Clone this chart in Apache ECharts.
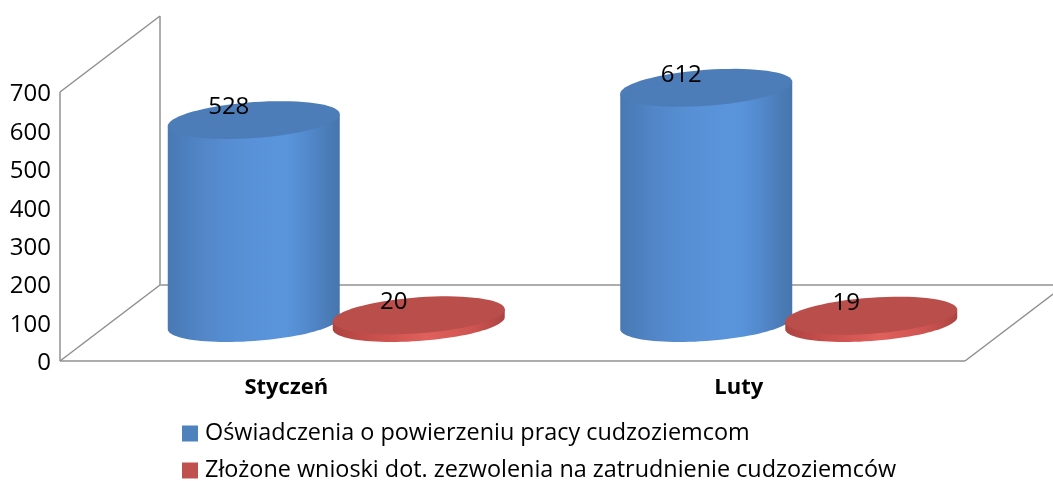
<!DOCTYPE html>
<html>
<head>
<meta charset="utf-8">
<style>
  html, body { margin: 0; padding: 0; background: #fff; }
  #chart { width: 1053px; height: 481px; }
</style>
<script src="https://cdn.jsdelivr.net/npm/echarts@6/dist/echarts.min.js"></script>
</head>
<body>
<div id="chart"></div>
<script>
const categories = ['Styczeń', 'Luty']
const oswiadczenia = [528, 612]
const wnioski = [20, 19]
const seriesNames = [
  'Oświadczenia o powierzeniu pracy cudzoziemcom',
  'Złożone wnioski dot. zezwolenia na zatrudnienie cudzoziemców'
]

const font = '"Open Sans", sans-serif'
const depthX = 100
const depthY = -76
const slot = 82.5
const radius = 86
const radiusY = 18
const shear = 6

const hGrad = (stops) => new echarts.graphic.LinearGradient(0, 0, 1, 0,
  stops.map(s => ({ offset: s[0], color: s[1] })))

const blueSide = hGrad([[0, '#4a79b3'], [0.1, '#4c7fbd'], [0.2, '#5286c8'], [0.38, '#578fd4'], [0.68, '#5a95dc'], [0.82, '#5289cc'], [0.92, '#4b7db9'], [1, '#4776ad']])
const redSide = hGrad([[0, '#ad4341'], [0.2, '#c44d4a'], [0.55, '#e0605c'], [0.8, '#cf5552'], [1, '#ad4442']])

const ellipsePoints = (cx, cy, from, to, n) => {
  const pts = []
  for (let i = 0; i <= n; i++) {
    const t = from + (to - from) * i / n
    pts.push([cx + radius * Math.cos(t), cy + radiusY * Math.sin(t) - shear * Math.cos(t)])
  }
  return pts
}

const cylinder = (sign, sideFill, topFill) => (params, api) => {
  const val = api.value(1)
  const base = api.coord([api.value(0), 0])
  const top = api.coord([api.value(0), val])
  const cx = base[0] + sign * slot + depthX / 2
  const by = base[1] + depthY / 2
  const ty = top[1] + depthY / 2
  const body = [[cx - radius, ty + shear]]
    .concat(ellipsePoints(cx, by, Math.PI, 0, 48))
    .concat([[cx + radius, ty - shear]])
  return {
    type: 'group',
    children: [
      { type: 'polygon', shape: { points: body }, style: { fill: sideFill } },
      { type: 'polygon', shape: { points: ellipsePoints(cx, ty, 0, Math.PI * 2, 72) }, style: { fill: topFill } },
      {
        type: 'text', z2: 10,
        style: {
          x: cx - 25, y: ty - 13, text: String(val), fill: '#000',
          font: '24px ' + font, textAlign: 'center', textVerticalAlign: 'middle'
        }
      }
    ]
  }
}

// walls and floor of the 3d box
const renderWalls = (params, api) => {
  const o = api.coord([0, 0])
  const t = api.coord([0, 700])
  const x0 = o[0] - api.size([1, 0])[0] / 2
  const x1 = x0 + api.size([1, 0])[0] * 2
  const thick = { stroke: '#adadad', lineWidth: 2, fill: 'none' }
  const thin = { stroke: '#8f8f8f', lineWidth: 1.5, fill: 'none' }
  const line = (a, b, c, d, style) => ({ type: 'line', shape: { x1: a, y1: b, x2: c, y2: d }, style })
  return {
    type: 'group',
    children: [
      line(x0, o[1], x0, t[1], thick),
      line(x0, o[1], x1, o[1], thick),
      line(x0 + depthX, o[1] + depthY, x0 + depthX, t[1] + depthY, thick),
      line(x0 + depthX, o[1] + depthY, x1 + depthX, o[1] + depthY, thick),
      line(x0, o[1], x0 + depthX, o[1] + depthY, thin),
      line(x0, t[1], x0 + depthX, t[1] + depthY, thin),
      line(x1, o[1], x1 + depthX, o[1] + depthY, thin)
    ]
  }
}

const chart = echarts.init(document.getElementById('chart'))
chart.setOption({
  animation: false,
  backgroundColor: '#fff',
  color: ['#4f81bd', '#c0504d'],
  grid: { left: 60, right: 88, top: 92, height: 269 },
  legend: {
    data: seriesNames.map(name => ({ name, icon: 'rect' })),
    orient: 'vertical',
    left: 177,
    top: 417,
    height: 90,
    itemWidth: 16,
    itemHeight: 16,
    itemGap: 14,
    textStyle: { fontFamily: font, fontSize: 23.4, color: '#000', padding: [0, 0, 0, 2] }
  },
  xAxis: {
    type: 'category',
    data: categories,
    axisLine: { show: false },
    axisTick: { show: false },
    axisLabel: { color: '#000', fontFamily: font, fontWeight: 'bold', fontSize: 22, margin: 16 }
  },
  yAxis: {
    type: 'value',
    min: 0,
    max: 700,
    interval: 100,
    axisLine: { show: false },
    axisTick: { show: false },
    splitLine: { show: false },
    axisLabel: { color: '#000', fontFamily: font, fontSize: 24, margin: 9, verticalAlign: 'top', lineHeight: 5 }
  },
  series: [
    {
      type: 'custom', silent: true, clip: false, z: 1,
      data: [[0, 0]],
      renderItem: renderWalls,
      encode: { x: 0, y: 1 }
    },
    {
      type: 'custom', name: seriesNames[0], clip: false, z: 2,
      itemStyle: { color: '#4f81bd' },
      data: oswiadczenia.map((v, i) => [i, v]),
      renderItem: cylinder(-1, blueSide, '#4c7db8'),
      encode: { x: 0, y: 1 }
    },
    {
      type: 'custom', name: seriesNames[1], clip: false, z: 3,
      itemStyle: { color: '#c0504d' },
      data: wnioski.map((v, i) => [i, v]),
      renderItem: cylinder(1, redSide, '#b94e4b'),
      encode: { x: 0, y: 1 }
    }
  ]
})
</script>
</body>
</html>
